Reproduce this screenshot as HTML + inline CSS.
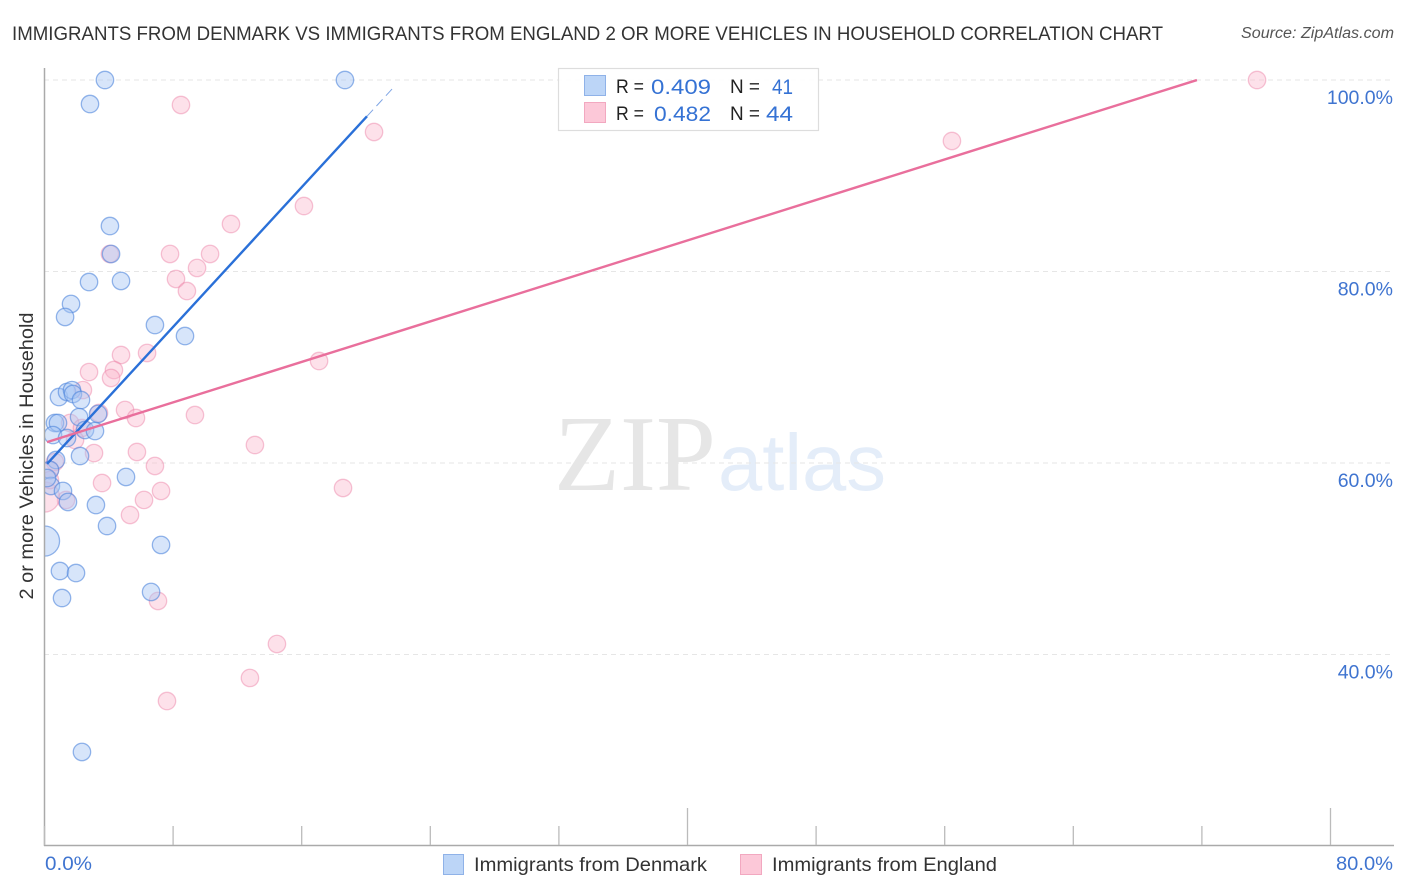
<!DOCTYPE html>
<html lang="en">
<head>
<meta charset="utf-8">
<title>Immigrants from Denmark vs Immigrants from England Correlation Chart</title>
<style>
html,body{margin:0;padding:0;background:#fff;}
svg{display:block;font-family:"Liberation Sans",sans-serif;}
</style>
</head>
<body>
<svg id="chart" width="1406" height="892" viewBox="0 0 1406 892" xmlns="http://www.w3.org/2000/svg">
  <rect width="1406" height="892" fill="#fff"/>
  <text x="12" y="40" font-size="19.5" fill="#333" textLength="1151" lengthAdjust="spacingAndGlyphs">IMMIGRANTS FROM DENMARK VS IMMIGRANTS FROM ENGLAND 2 OR MORE VEHICLES IN HOUSEHOLD CORRELATION CHART</text>
  <text x="1241" y="38" font-size="15.5" font-style="italic" fill="#555" textLength="153" lengthAdjust="spacingAndGlyphs">Source: ZipAtlas.com</text>

  <g id="watermark">
    <text x="554" y="490" font-size="108" fill="#e6e6e6" style="font-family:'Liberation Serif',serif">ZIP</text>
    <text x="718" y="490" font-size="80" fill="#e4edf9" textLength="168" lengthAdjust="spacingAndGlyphs" style="font-family:'Liberation Sans',sans-serif">atlas</text>
  </g>

  <g id="grid"></g>
  <g id="points"></g>
  <rect x="0" y="60" width="44" height="790" fill="#fff"/>
  <g id="trends"></g>
  <g id="axes"></g>

  <text x="33" y="456" font-size="19.5" fill="#333" text-anchor="middle" textLength="287" lengthAdjust="spacingAndGlyphs" transform="rotate(-90 33 456)">2 or more Vehicles in Household</text>

  <g>
    <rect x="558.5" y="68.5" width="260" height="62" fill="#fff" fill-opacity="0.9" stroke="#ddd" stroke-width="1.2"/>
    <rect x="584.5" y="75.5" width="21" height="20" fill="#bcd5f7" stroke="#8fb2e8"/>
    <rect x="584.5" y="102.5" width="21" height="20" fill="#fcc8d8" stroke="#f2a8c0"/>
    <text x="616" y="93" font-size="19" fill="#222" textLength="28" lengthAdjust="spacingAndGlyphs">R =</text>
    <text x="651" y="94" font-size="21.5" fill="#3572d4" textLength="60" lengthAdjust="spacingAndGlyphs">0.409</text>
    <text x="730" y="93" font-size="19" fill="#222" textLength="30" lengthAdjust="spacingAndGlyphs">N =</text>
    <text x="772" y="94" font-size="21.5" fill="#3572d4" textLength="21" lengthAdjust="spacingAndGlyphs">41</text>
    <text x="616" y="120" font-size="19" fill="#222" textLength="28" lengthAdjust="spacingAndGlyphs">R =</text>
    <text x="654" y="121" font-size="21.5" fill="#3572d4" textLength="57" lengthAdjust="spacingAndGlyphs">0.482</text>
    <text x="730" y="120" font-size="19" fill="#222" textLength="30" lengthAdjust="spacingAndGlyphs">N =</text>
    <text x="766" y="121" font-size="21.5" fill="#3572d4" textLength="27" lengthAdjust="spacingAndGlyphs">44</text>
  </g>

  <g>
    <rect x="443.5" y="854.5" width="20" height="20" fill="#bcd5f7" stroke="#8fb2e8"/>
    <text x="474" y="871" font-size="19.5" fill="#333" textLength="233" lengthAdjust="spacingAndGlyphs">Immigrants from Denmark</text>
    <rect x="740.5" y="854.5" width="21" height="20" fill="#fcc8d8" stroke="#f2a8c0"/>
    <text x="772" y="871" font-size="19.5" fill="#333" textLength="225" lengthAdjust="spacingAndGlyphs">Immigrants from England</text>
  </g>
</svg>
<script>
var yTickValues = [100, 80, 60, 40];
var yTickLabels = ['100.0%', '80.0%', '60.0%', '40.0%'];
var xTickValues = [0, 8, 16, 24, 32, 40, 48, 56, 64, 72, 80];
var xMajorTicks = [40, 80];
var xEndValues = [0, 80];
var xEndLabels = ['0.0%', '80.0%'];

var denmarkX = [3.76,18.69,2.83,4.07,4.14,2.77,4.76,1.65,1.28,6.87,8.74,0.90,1.40,1.71,1.77,2.27,0.65,0.84,2.15,3.33,0.53,1.40,2.52,3.14,2.21,0.72,0.34,0.40,1.15,1.46,3.20,5.07,3.89,0,7.25,0.96,1.96,1.09,6.63,2.33,0.16];
var denmarkY = [100,100,97.49,84.75,81.83,78.90,79.01,76.61,75.25,74.41,73.26,66.89,67.42,67.62,67.21,66.58,64.18,64.18,64.80,65.12,62.92,62.61,63.45,63.34,60.73,60.31,59.27,57.60,57.08,55.93,55.61,58.54,53.42,51.85,51.44,48.72,48.51,45.90,46.53,29.82,58.43];
var denmarkWeight = [1,1,1,1,1,1,1,1,1,1,1,1,1,1,1,1,1,1,1,1,1,1,1,1,1,1,1,1,1,1,1,1,1,3,1,1,1,1,1,1,1];

var englandX = [75.43,8.49,20.50,56.45,16.14,11.60,7.81,4.07,10.30,9.49,8.18,8.86,4.76,6.38,17.08,2.77,4.32,4.14,2.39,5.01,3.39,5.69,9.36,1.59,2.33,1.90,13.09,3.08,5.75,0.65,6.87,0.34,3.58,7.25,18.57,6.19,1.34,5.32,0,7.06,14.46,12.78,7.62,0.34];
var englandY = [100,97.39,94.57,93.63,86.84,84.96,81.83,81.83,81.83,80.37,79.22,77.96,71.28,71.49,70.65,69.50,69.71,68.88,67.62,65.54,65.22,64.70,65.01,64.18,63.66,62.40,61.88,61.04,61.15,60.10,59.69,59.27,57.91,57.08,57.39,56.14,56.14,54.57,56.45,45.59,41.10,37.55,35.14,58.22];
var englandWeight = [1,1,1,1,1,1,1,1,1,1,1,1,1,1,1,1,1,1,1,1,1,1,1,1,1,1,1,1,1,1,1,1,1,1,1,1,1,1,3,1,1,1,1,1];

var denmarkTrend = [59.62, 1.824];
var denmarkTrendRange = [0.156, 20.06, 21.8];
var englandTrend = [62.1, 0.5286];
var englandTrendRange = [0.156, 71.69];

var NS = 'http://www.w3.org/2000/svg';
function xScale(v) { return 44.5 + v * (1330.5 - 44.5) / 80; }
function yScale(v) { return 80 + (100 - v) * (654.5 - 80) / 60; }
function make(tag, parent, attrs) {
  var el = document.createElementNS(NS, tag);
  for (var k in attrs) { el.setAttribute(k, attrs[k]); }
  parent.appendChild(el);
  return el;
}

var grid = document.getElementById('grid');
var axes = document.getElementById('axes');
var points = document.getElementById('points');
var trends = document.getElementById('trends');

yTickValues.forEach(function (v, i) {
  var line = make('line', grid, {x1: 44, x2: 1394, y1: yScale(v), y2: yScale(v), stroke: '#e6e6e6', 'stroke-width': 1, 'stroke-dasharray': '5 4'});
  
  
  var label = make('text', axes, {x: 1393, y: yScale(v) + 24, 'font-size': 19.5, fill: '#3f74d0', 'text-anchor': 'end'});
  label.textContent = yTickLabels[i];
  
  
});

var yAxis = make('line', axes, {x1: 44.5, x2: 44.5, y1: 68, y2: 846, stroke: '#aaa', 'stroke-width': 1.5});


var xAxis = make('line', axes, {x1: 44, x2: 1394, y1: 845.5, y2: 845.5, stroke: '#aaa', 'stroke-width': 1.5});



xTickValues.forEach(function (v) {
  var top = xMajorTicks.indexOf(v) >= 0 ? 808 : 826;
  var tick = make('line', axes, {x1: xScale(v), x2: xScale(v), y1: top, y2: 845, stroke: '#bbb', 'stroke-width': 1.3});
  
  
});

xEndValues.forEach(function (v, i) {
  var label = make('text', axes, i === 0
    ? {x: 45, y: 870, 'font-size': 19.5, fill: '#3f74d0', textLength: 47, lengthAdjust: 'spacingAndGlyphs'}
    : {x: 1336, y: 870, 'font-size': 19.5, fill: '#3f74d0', textLength: 57, lengthAdjust: 'spacingAndGlyphs'});
  label.textContent = xEndLabels[i];
  
  
});

function radius(w) { return 8.7 * Math.sqrt(w); }

englandX.forEach(function (v, i) {
  var c = make('circle', points, {cx: xScale(v), cy: yScale(englandY[i]), r: radius(englandWeight[i]), fill: '#f9b4cb', 'fill-opacity': 0.4, stroke: '#ea7fa5', 'stroke-opacity': 0.45, 'stroke-width': 1.3});
  
  
});
denmarkX.forEach(function (v, i) {
  var c = make('circle', points, {cx: xScale(v), cy: yScale(denmarkY[i]), r: radius(denmarkWeight[i]), fill: '#a6c6f3', 'fill-opacity': 0.45, stroke: '#4f86dc', 'stroke-opacity': 0.6, 'stroke-width': 1.3});
  
  
});

function trendY(t, x) { return t[0] + t[1] * x; }

var dSolid = make('line', trends, {x1: xScale(denmarkTrendRange[0]), y1: yScale(trendY(denmarkTrend, denmarkTrendRange[0])), x2: xScale(denmarkTrendRange[1]), y2: yScale(trendY(denmarkTrend, denmarkTrendRange[1])), stroke: '#2a70d8', 'stroke-width': 2.4});


var dDash = make('line', trends, {x1: xScale(denmarkTrendRange[1]), y1: yScale(trendY(denmarkTrend, denmarkTrendRange[1])), x2: xScale(denmarkTrendRange[2]), y2: yScale(trendY(denmarkTrend, denmarkTrendRange[2])), stroke: '#7fa5e4', 'stroke-width': 1, 'stroke-dasharray': '9 5'});


var eSolid = make('line', trends, {x1: xScale(englandTrendRange[0]), y1: yScale(trendY(englandTrend, englandTrendRange[0])), x2: xScale(englandTrendRange[1]), y2: yScale(trendY(englandTrend, englandTrendRange[1])), stroke: '#e96f9c', 'stroke-width': 2.4});


</script>
</body>
</html>
